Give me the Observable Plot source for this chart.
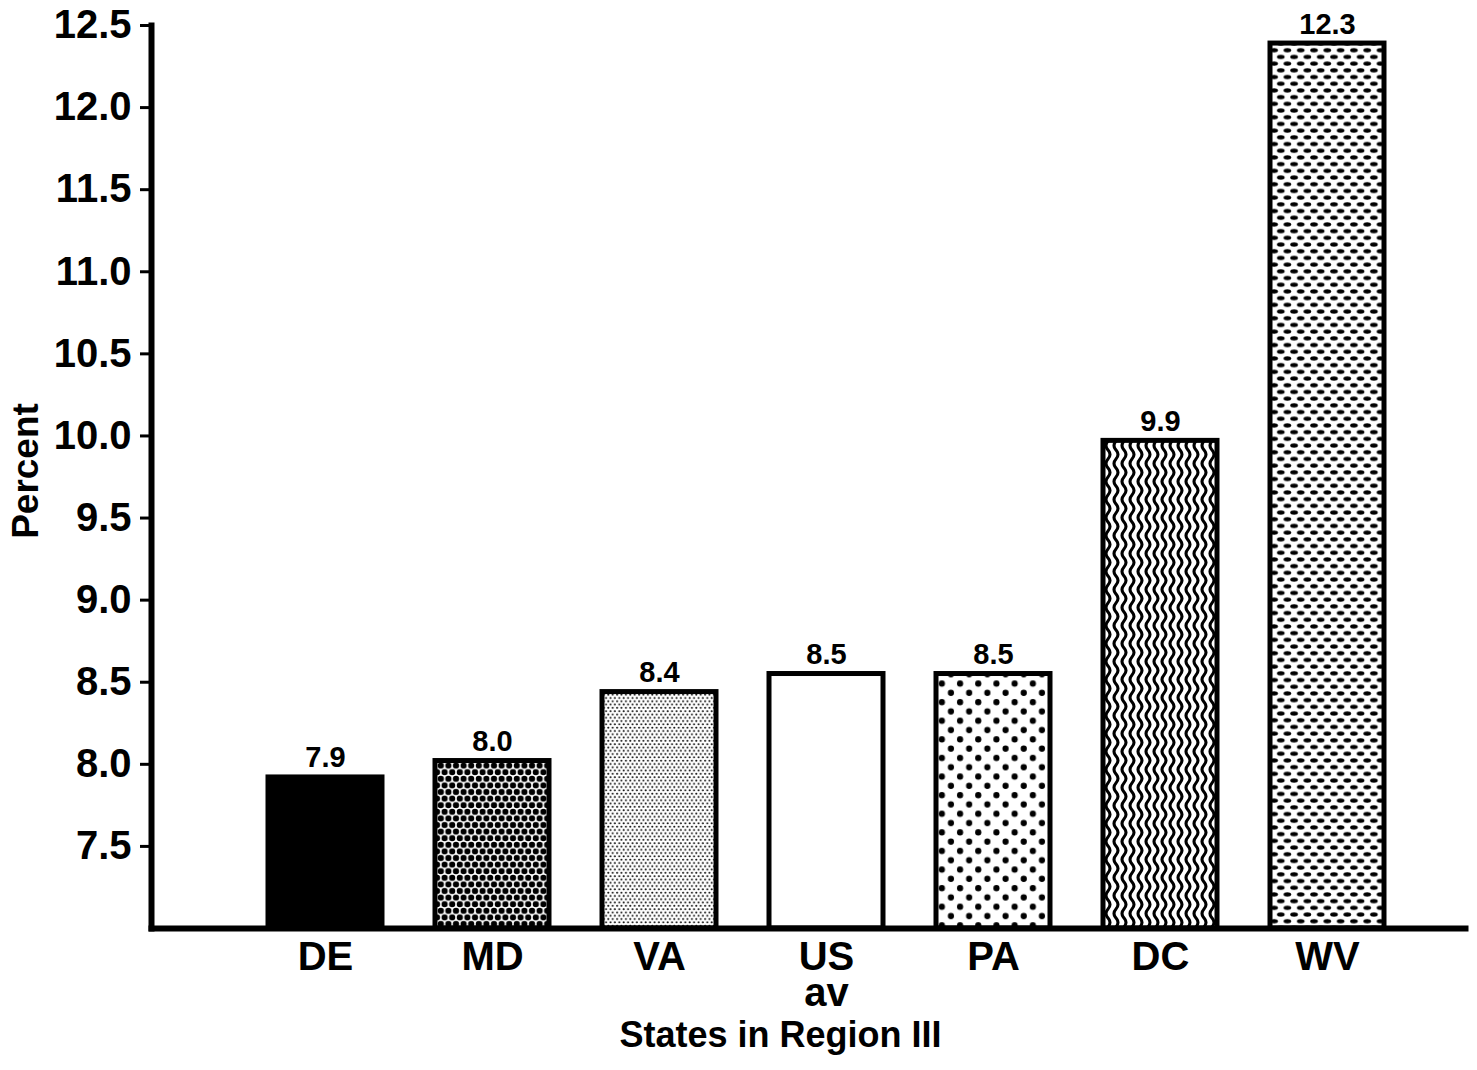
<!DOCTYPE html>
<html><head><meta charset="utf-8">
<script src="https://cdn.jsdelivr.net/npm/d3@7"></script>
<script src="https://cdn.jsdelivr.net/npm/@observablehq/plot@0.6"></script>
<style>html,body{margin:0;padding:0;background:#fff}</style>
</head><body><div id="chart"></div>
<script>
// ---- data ----
const states = ["DE", "MD", "VA", "US", "PA", "DC", "WV"];
const stateLabels = ["DE", "MD", "VA", "US\nav", "PA", "DC", "WV"];
const barHeights = [7.92, 8.02, 8.44, 8.55, 8.55, 9.97, 12.39];
const valueLabels = ["7.9", "8.0", "8.4", "8.5", "8.5", "9.9", "12.3"];
const fills = ["black", "url(#pMD)", "url(#pVA)", "white", "url(#pPA)", "url(#pDC)", "url(#pWV)"];
const yTicks = [7.5, 8.0, 8.5, 9.0, 9.5, 10.0, 10.5, 11.0, 11.5, 12.0, 12.5];
const yDomain = [7.0, 12.5];
const xTitle = "States in Region III";
const yTitle = "Percent";

const rows = states.map((s, i) => ({
  state: s, label: stateLabels[i], value: barHeights[i], valueLabel: valueLabels[i], fill: fills[i]
}));

const font = "'Liberation Sans', Arial, Helvetica, sans-serif";

const chart = Plot.plot({
  width: 1477, height: 1070,
  marginTop: 25, marginLeft: 151, marginRight: 12, marginBottom: 142,
  style: {fontFamily: font, fontWeight: "bold", color: "black", background: "white"},
  x: {domain: states, paddingInner: 0.32, paddingOuter: 0.59, align: 0.59, axis: null},
  y: {domain: yDomain, axis: null},
  color: {type: "identity"},
  marks: [
    Plot.barY(rows, {x: "state", y1: yDomain[0], y2: "value", fill: "fill", stroke: "black", strokeWidth: 5}),
    Plot.text(rows, {x: "state", y: "value", text: "valueLabel", lineAnchor: "bottom", dy: -10, fontSize: 29, fontWeight: "bold"}),
    Plot.text(rows, {x: "state", text: "label", frameAnchor: "bottom", lineAnchor: "top", dy: 16, fontSize: 40, fontWeight: "bold", lineHeight: 0.9}),
    Plot.axisY({ticks: yTicks, tickFormat: d => d.toFixed(1), tickSize: 11, tickPadding: 9, strokeWidth: 3, fontSize: 40, fontWeight: "bold", label: null}),
    Plot.frame({anchor: "left", strokeWidth: 6}),
    Plot.frame({anchor: "bottom", strokeWidth: 6}),
    Plot.text([yTitle], {frameAnchor: "left", textAnchor: "middle", rotate: -90, dx: -125, dy: -6, fontSize: 37, fontWeight: "bold", text: d => d}),
    Plot.text([xTitle], {frameAnchor: "bottom", lineAnchor: "top", dy: 93, dx: -28, fontSize: 36, fontWeight: "bold", text: d => d})
  ]
});

const defs = d3.select(chart).insert("defs", ":first-child");
defs.html(`
<pattern id="pMD" width="7.6" height="13.2" patternUnits="userSpaceOnUse">
  <rect width="7.6" height="13.2" fill="white"/>
  <g fill="black">
  <circle cx="0" cy="0" r="3.1"/><circle cx="7.6" cy="0" r="3.1"/>
  <circle cx="3.8" cy="6.6" r="3.1"/>
  <circle cx="0" cy="13.2" r="3.1"/><circle cx="7.6" cy="13.2" r="3.1"/>
  </g>
</pattern>
<pattern id="pVA" width="4.4" height="6.6" patternUnits="userSpaceOnUse">
  <rect width="4.4" height="6.6" fill="white"/>
  <g fill="#111"><circle cx="1.1" cy="1.65" r="1.05"/><circle cx="3.3" cy="4.95" r="1.05"/></g>
</pattern>
<pattern id="pPA" width="18.2" height="18.6" patternUnits="userSpaceOnUse">
  <rect width="18.2" height="18.6" fill="white"/>
  <g fill="black"><circle cx="4.55" cy="4.65" r="3.1"/><circle cx="13.65" cy="13.95" r="3.1"/></g>
</pattern>
<pattern id="pDC" width="8" height="18" patternUnits="userSpaceOnUse">
  <rect width="8" height="18" fill="white"/>
  <path d="M4,-9 Q0,-4.5 4,0 Q8,4.5 4,9 Q0,13.5 4,18 Q8,22.5 4,27" fill="none" stroke="black" stroke-width="3"/>
</pattern>
<pattern id="pWV" width="13.3" height="13.4" patternUnits="userSpaceOnUse">
  <rect width="13.3" height="13.4" fill="white"/>
  <g fill="black">
  <ellipse cx="4" cy="3.35" rx="3.8" ry="2.1"/>
  <ellipse cx="10.65" cy="10.05" rx="3.8" ry="2.1"/>
  <ellipse cx="-2.65" cy="10.05" rx="3.8" ry="2.1"/>
  </g>
</pattern>`);

document.getElementById("chart").appendChild(chart);
</script>
</body></html>
